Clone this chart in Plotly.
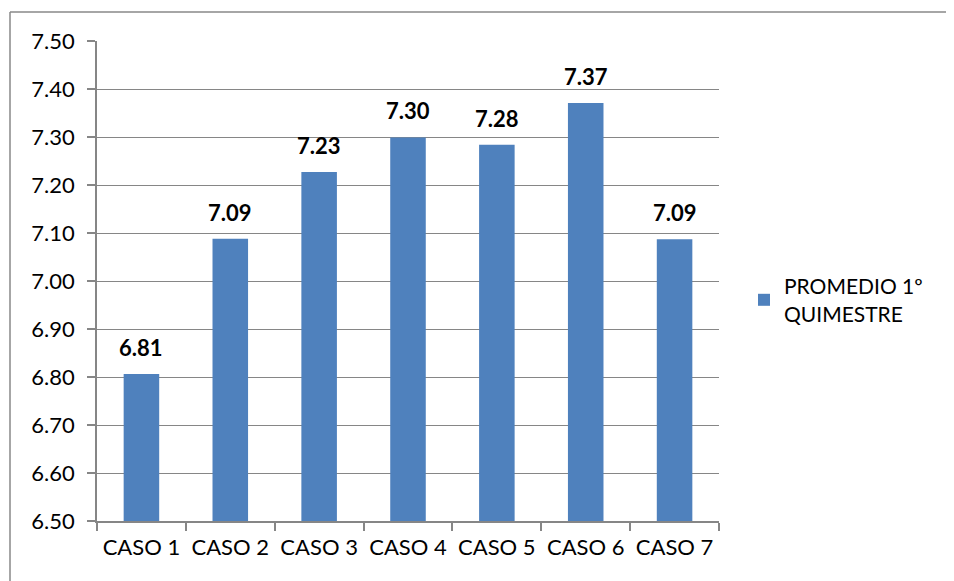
import plotly.graph_objects as go

categories = ["CASO 1", "CASO 2", "CASO 3", "CASO 4", "CASO 5", "CASO 6", "CASO 7"]
promedio = [6.806, 7.088, 7.227, 7.299, 7.284, 7.371, 7.087]
series_name = "PROMEDIO 1º<br>QUIMESTRE"

W, H = 954, 581
OFF = 8  # page body margin
L, R, T, B = 97 - OFF, 719 - OFF, 41 - OFF, 521 - OFF
FONT = "Lato"
FS = 22

fig = go.Figure()
fig.add_trace(go.Bar(
    x=categories, y=promedio, name=series_name,
    marker=dict(color="#4F81BD", line=dict(width=0)),
    showlegend=True,
))

for c, v in zip(categories, promedio):
    fig.add_annotation(x=c, y=v, text=f"<b>{v:.2f}</b>", showarrow=False,
                       yanchor="bottom", yshift=11,
                       font=dict(family=FONT, size=FS, color="black"))

pw, ph = R - L, B - T
bx = (10 - OFF - L) / pw
by = 1 + (T - (12 - OFF)) / ph
fig.add_shape(type="line", xref="paper", yref="paper", x0=bx, x1=2, y0=by, y1=by,
              line=dict(color="#888888", width=1.5))
fig.add_shape(type="line", xref="paper", yref="paper", x0=bx, x1=bx, y0=by, y1=-1,
              line=dict(color="#888888", width=1.5))

fig.update_layout(
    width=W, height=H,
    margin=dict(l=L, r=W - R, t=T, b=H - B, pad=0, autoexpand=False),
    paper_bgcolor="white", plot_bgcolor="white",
    bargap=0.6,
    font=dict(family=FONT, size=FS, color="black"),
    legend=dict(x=(744 - OFF - L) / pw, y=1 - (300 - OFF - T) / ph,
                xanchor="left", yanchor="middle",
                font=dict(family=FONT, size=21, color="black"),
                itemwidth=30, bgcolor="rgba(0,0,0,0)"),
    xaxis=dict(showline=True, linecolor="#868686", linewidth=1.5,
               ticks="outside", tickson="boundaries", ticklen=8, tickcolor="#868686",
               tickwidth=1.5, showgrid=False, automargin=False,
               ticklabelstandoff=6,
               tickfont=dict(family=FONT, size=FS, color="black")),
    yaxis=dict(range=[6.5, 7.5], dtick=0.1, tick0=6.5, tickformat=".2f",
               showline=True, linecolor="#868686", linewidth=1.5,
               ticks="outside", ticklen=8, tickcolor="#868686", tickwidth=1.5,
               showgrid=True, gridcolor="#868686", gridwidth=1.2,
               zeroline=False, automargin=False, ticklabelstandoff=8,
               tickfont=dict(family=FONT, size=FS, color="black")),
)

fig.write_html("out.html")
